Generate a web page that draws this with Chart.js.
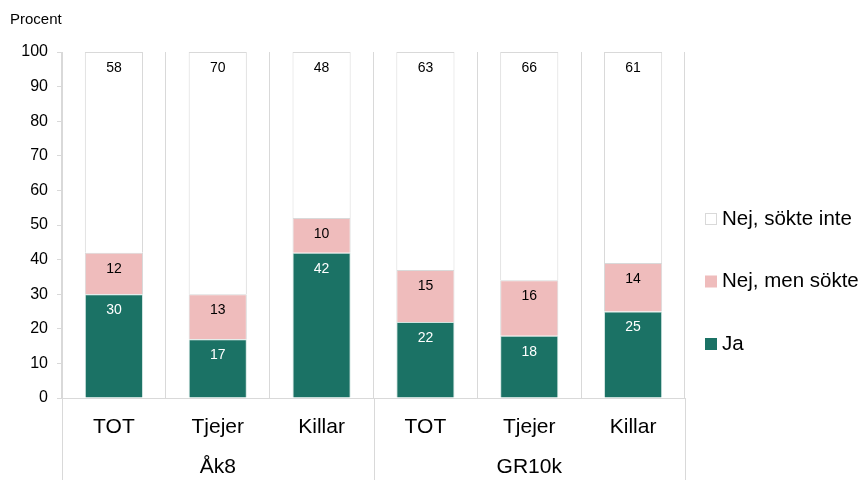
<!DOCTYPE html>
<html>
<head>
<meta charset="utf-8">
<script src="https://cdn.jsdelivr.net/npm/chart.js@4.4.1/dist/chart.umd.min.js"></script>
<style>
  html, body { margin: 0; padding: 0; background: #fff; }
</style>
</head>
<body>
<canvas id="chart" width="867" height="480"></canvas>
<script>
const categories = ['TOT', 'Tjejer', 'Killar', 'TOT', 'Tjejer', 'Killar'];
const groups = ['Åk8', 'GR10k'];
const groupSizes = [3, 3];
const seriesNames = ['Ja', 'Nej, men sökte', 'Nej, sökte inte'];
const ja = [30, 17, 42, 22, 18, 25];
const nejMenSokte = [12, 13, 10, 15, 16, 14];
const nejSokteInte = [58, 70, 48, 63, 66, 61];

const GREEN = '#1b7265';
const PINK = '#efbcbc';
const GRID = '#d9d9d9';

Chart.defaults.font.family = "'Liberation Sans', Arial, sans-serif";
Chart.defaults.color = '#000';

// value labels, group labels/separators and the legend on the right
const extras = {
  id: 'extras',
  afterDatasetsDraw(chart) {
    const ctx = chart.ctx;
    ctx.save();
    ctx.font = "14px 'Liberation Sans', Arial, sans-serif";
    ctx.textAlign = 'center';
    ctx.textBaseline = 'middle';
    chart.data.datasets.forEach((ds, di) => {
      const meta = chart.getDatasetMeta(di);
      ctx.fillStyle = di === 0 ? '#fff' : '#000';
      meta.data.forEach((bar, i) => {
        ctx.fillText(ds.data[i], bar.x, bar.y + 16);
      });
    });
    ctx.restore();
  },
  afterDraw(chart) {
    const ctx = chart.ctx;
    const x = chart.scales.x;
    const area = chart.chartArea;
    ctx.save();
    ctx.strokeStyle = GRID;
    ctx.lineWidth = 1;
    ctx.font = "21px 'Liberation Sans', Arial, sans-serif";
    ctx.textAlign = 'center';
    ctx.textBaseline = 'middle';
    ctx.fillStyle = '#000';
    let start = 0;
    groupSizes.forEach((n, g) => {
      const end = start + n - 1;
      const left = start === 0 ? area.left
        : (x.getPixelForValue(start - 1) + x.getPixelForValue(start)) / 2;
      const right = end === categories.length - 1 ? area.right
        : (x.getPixelForValue(end) + x.getPixelForValue(end + 1)) / 2;
      [left, right].forEach(px => {
        const p = Math.round(px) + 0.5;
        ctx.beginPath();
        ctx.moveTo(p, area.bottom);
        ctx.lineTo(p, chart.height);
        ctx.stroke();
      });
      ctx.fillText(groups[g], (left + right) / 2, 467);
      start += n;
    });

    // legend, reversed like the stack
    ctx.font = "20.5px 'Liberation Sans', Arial, sans-serif";
    ctx.textAlign = 'left';
    const items = chart.data.datasets.slice().reverse();
    items.forEach((ds, k) => {
      const cy = 219 + k * 62.5;
      ctx.fillStyle = ds.backgroundColor;
      ctx.fillRect(705, cy - 6, 12, 12);
      if (ds.backgroundColor === '#ffffff') {
        ctx.strokeStyle = GRID;
        ctx.strokeRect(705.5, cy - 5.5, 11, 11);
      }
      ctx.fillStyle = '#000';
      ctx.fillText(ds.label, 722, cy);
    });
    ctx.restore();
  }
};

new Chart(document.getElementById('chart'), {
  type: 'bar',
  data: {
    labels: categories,
    datasets: [
      { label: seriesNames[0], data: ja, backgroundColor: GREEN, borderColor: '#cfe3df', borderWidth: 1 },
      { label: seriesNames[1], data: nejMenSokte, backgroundColor: PINK, borderColor: GRID, borderWidth: 1 },
      { label: seriesNames[2], data: nejSokteInte, backgroundColor: '#ffffff', borderColor: GRID, borderWidth: 1 }
    ]
  },
  options: {
    responsive: false,
    animation: false,
    categoryPercentage: 1,
    barPercentage: 0.56,
    layout: { padding: { left: 10, right: 182, top: 0, bottom: 0 } },
    plugins: {
      legend: { display: false },
      tooltip: { enabled: false },
      title: {
        display: true,
        text: 'Procent',
        align: 'start',
        color: '#000',
        font: { size: 15, weight: 'normal' },
        padding: { top: 11, bottom: 23 }
      }
    },
    scales: {
      x: {
        stacked: true,
        grid: { color: GRID, drawTicks: false, offset: true },
        border: { color: GRID },
        ticks: { font: { size: 21 }, color: '#000', padding: 17 },
        afterFit(scale) { scale.height = 82; }
      },
      y: {
        stacked: true,
        min: 0,
        max: 100,
        ticks: { stepSize: 10, font: { size: 16 }, color: '#000', padding: 9 },
        grid: { drawOnChartArea: false, drawTicks: true, tickLength: 5, color: GRID },
        border: { color: GRID },
        afterFit(scale) { scale.width = 52; }
      }
    }
  },
  plugins: [extras]
});
</script>
</body>
</html>
